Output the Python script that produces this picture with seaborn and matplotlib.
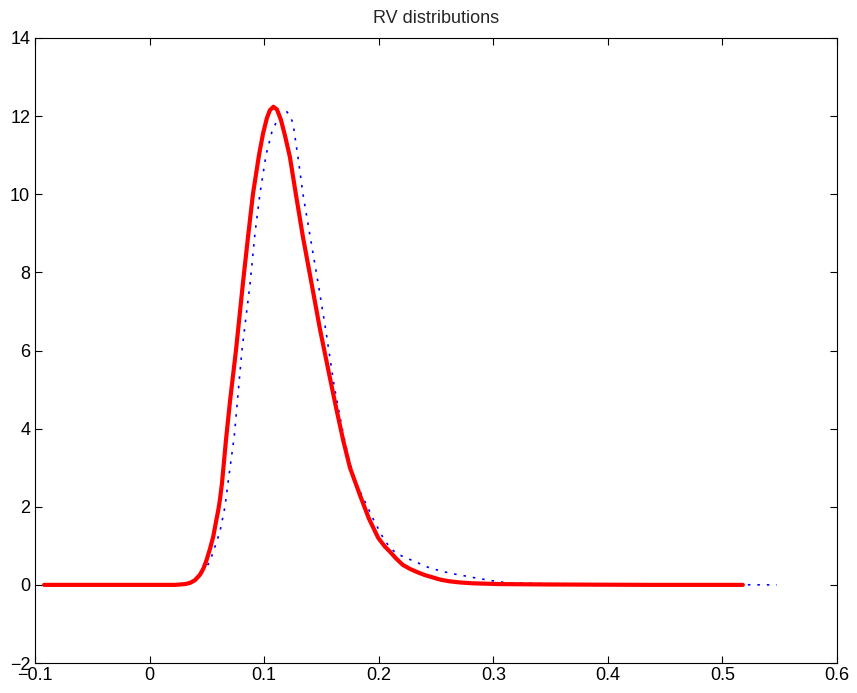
import seaborn as sns
import pandas as pd
import matplotlib.pyplot as plt

# solid red curve
red_x = [-0.0921, 0.0003, 0.0222, 0.0309, 0.0353, 0.0396, 0.0440, 0.0470, 0.0498, 0.0527,
         0.0556, 0.0579, 0.0600, 0.0614, 0.0632, 0.0667, 0.0702, 0.0754, 0.0818, 0.0859,
         0.0902, 0.0955, 0.0990, 0.1024, 0.1050, 0.1081, 0.1112, 0.1147, 0.1182, 0.1225,
         0.1277, 0.1339, 0.1415, 0.1487, 0.1567, 0.1627, 0.1690, 0.1749, 0.1836, 0.1914,
         0.1996, 0.2054, 0.2098, 0.2150, 0.2211, 0.2272, 0.2333, 0.2403, 0.2473, 0.2543,
         0.2621, 0.2717, 0.2822, 0.3058, 0.3494, 0.4366, 0.5178]
red_y = [0.0, 0.0, 0.0, 0.02, 0.05, 0.12, 0.26, 0.42, 0.64, 0.92,
         1.24, 1.6, 1.92, 2.18, 2.6, 3.71, 4.7, 6.0, 7.81, 8.9,
         10.0, 11.0, 11.55, 11.95, 12.15, 12.24, 12.17, 11.9, 11.5, 10.95,
         10.0, 8.9, 7.7, 6.55, 5.4, 4.55, 3.7, 3.0, 2.3, 1.7,
         1.2, 0.98, 0.85, 0.68, 0.51, 0.41, 0.33, 0.25, 0.19, 0.13,
         0.09, 0.06, 0.04, 0.02, 0.01, 0.0, 0.0]

# dotted blue curve
blue_x = [-0.0921, 0.0003, 0.0265, 0.0326, 0.0381, 0.0440, 0.0483, 0.0527, 0.0571, 0.0614,
          0.0658, 0.0693, 0.0739, 0.0806, 0.0876, 0.0920, 0.0963, 0.1016, 0.1068, 0.1130,
          0.1164, 0.1199, 0.1225, 0.1251, 0.1295, 0.1339, 0.1391, 0.1472, 0.1539, 0.1612,
          0.1690, 0.1734, 0.1801, 0.1880, 0.1958, 0.2039, 0.2098, 0.2159, 0.2229, 0.2298,
          0.2368, 0.2447, 0.2578, 0.2674, 0.2770, 0.2857, 0.2944, 0.3040, 0.3145, 0.3319,
          0.3494, 0.4366, 0.5475]
blue_y = [0.0, 0.0, 0.0, 0.04, 0.13, 0.25, 0.4, 0.6, 0.98, 1.36,
          2.0, 2.8, 3.8, 6.0, 7.68, 9.0, 10.0, 11.0, 11.6, 12.0,
          12.1, 12.11, 12.0, 11.83, 10.96, 10.0, 9.1, 7.71, 6.5, 5.08,
          3.87, 3.28, 2.6, 2.13, 1.65, 1.2, 0.95, 0.8, 0.7, 0.62,
          0.53, 0.43, 0.33, 0.27, 0.22, 0.17, 0.13, 0.08, 0.05, 0.04,
          0.03, 0.01, 0.0]

xticks = [-0.1, 0, 0.1, 0.2, 0.3, 0.4, 0.5, 0.6]
xtick_labels = ['\u22120.1', '0', '0.1', '0.2', '0.3', '0.4', '0.5', '0.6']
yticks = [-2, 0, 2, 4, 6, 8, 10, 12, 14]
ytick_labels = ['\u22122', '0', '2', '4', '6', '8', '10', '12', '14']

sns.set_theme(style="ticks")
plt.rcParams['font.family'] = ['Liberation Sans', 'DejaVu Sans']

fig = plt.figure(figsize=(8.57, 6.93), dpi=100)
ax = fig.add_axes([35/857, 30/693, 802/857, 625/693])

red = pd.DataFrame({'x': red_x, 'y': red_y})
blue = pd.DataFrame({'x': blue_x, 'y': blue_y})

sns.lineplot(data=blue, x='x', y='y', ax=ax, color='#0000ff', linewidth=1.2,
             linestyle=(0, (1.5, 4.2)))
sns.lineplot(data=red, x='x', y='y', ax=ax, color='#ff0000', linewidth=3.0)

ax.set_xlim(-0.1, 0.6)
ax.set_ylim(-2, 14)
ax.set_xticks(xticks)
ax.set_xticklabels(xtick_labels)
ax.set_yticks(yticks)
ax.set_yticklabels(ytick_labels)
ax.set_xlabel('')
ax.set_ylabel('')
ax.tick_params(direction='in', length=5, width=0.8, labelsize=13,
               top=True, right=True, colors='black')
ax.tick_params(axis='x', pad=3)
ax.tick_params(axis='y', pad=3.5)
for s in ax.spines.values():
    s.set_visible(True)
    s.set_linewidth(0.8)
    s.set_color('black')

ax.set_title('RV distributions', fontsize=13, pad=11)

fig.savefig('out.png', dpi=100)
